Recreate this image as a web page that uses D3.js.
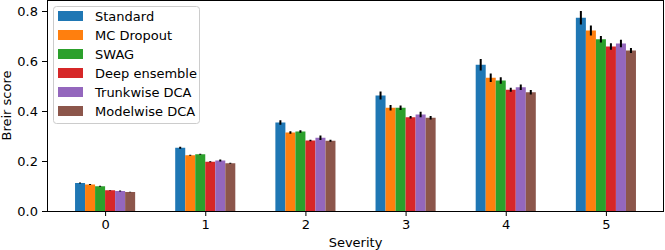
<!DOCTYPE html>
<html>
<head>
<meta charset="utf-8">
<script src="https://cdn.jsdelivr.net/npm/d3@7"></script>
<style>
  body { margin: 0; background: #fff; }
  svg text { font-family: "DejaVu Sans", sans-serif; fill: #000; }
</style>
</head>
<body>
<svg id="chart" width="665" height="250"></svg>
<script>
const severities = ['0', '1', '2', '3', '4', '5'];
const methods = ['Standard', 'MC Dropout', 'SWAG', 'Deep ensemble', 'Trunkwise DCA', 'Modelwise DCA'];
const colors = ['#1f77b4', '#ff7f0e', '#2ca02c', '#d62728', '#9467bd', '#8c564b'];

// mean Brier score per method, one entry per severity
const standard     = [0.112, 0.253, 0.354, 0.462, 0.585, 0.773];
const mcDropout    = [0.106, 0.223, 0.314, 0.413, 0.533, 0.722];
const swag         = [0.099, 0.227, 0.318, 0.413, 0.522, 0.687];
const deepEnsemble = [0.083, 0.197, 0.282, 0.375, 0.485, 0.658];
const trunkwiseDca = [0.080, 0.202, 0.293, 0.386, 0.495, 0.670];
const modelwiseDca = [0.076, 0.191, 0.281, 0.373, 0.475, 0.642];

// half-length of the error bars
const standardErr     = [0.002, 0.004, 0.009, 0.016, 0.023, 0.027];
const mcDropoutErr    = [0.002, 0.002, 0.005, 0.011, 0.017, 0.020];
const swagErr         = [0.002, 0.002, 0.005, 0.009, 0.013, 0.013];
const deepEnsembleErr = [0.001, 0.002, 0.003, 0.005, 0.008, 0.013];
const trunkwiseDcaErr = [0.002, 0.004, 0.009, 0.011, 0.011, 0.015];
const modelwiseDcaErr = [0.001, 0.002, 0.004, 0.007, 0.009, 0.010];

const yTicks = [0.0, 0.2, 0.4, 0.6, 0.8];

const series = [standard, mcDropout, swag, deepEnsemble, trunkwiseDca, modelwiseDca];
const errors = [standardErr, mcDropoutErr, swagErr, deepEnsembleErr, trunkwiseDcaErr, modelwiseDcaErr];

const margin = { top: 0, right: 1, bottom: 39, left: 47 };
const width = 665 - margin.left - margin.right;
const height = 250 - margin.top - margin.bottom;

const svg = d3.select('#chart');
const g = svg.append('g')
    .attr('transform', `translate(${margin.left},${margin.top})`);

// numeric x like matplotlib: groups at 0..5, bars of width 0.1
const barW = 0.1;
const xScale = d3.scaleLinear()
    .domain([-0.58, 5.58])
    .range([0, width]);

const yScale = d3.scaleLinear()
    .domain([0, 0.844])
    .range([height, 0]);

const bars = [];
series.forEach((vals, m) => {
    vals.forEach((v, i) => {
        const center = i + (m - 2.5) * barW;
        bars.push({ m, i, center, v, err: errors[m][i] });
    });
});

g.selectAll('.bar')
    .data(bars)
    .enter()
    .append('rect')
    .attr('class', 'bar')
    .attr('x', d => xScale(d.center - barW / 2))
    .attr('width', d => xScale(d.center + barW / 2) - xScale(d.center - barW / 2))
    .attr('y', d => yScale(d.v))
    .attr('height', d => yScale(0) - yScale(d.v))
    .attr('fill', d => colors[d.m]);

g.selectAll('.err')
    .data(bars)
    .enter()
    .append('line')
    .attr('class', 'err')
    .attr('x1', d => xScale(d.center))
    .attr('x2', d => xScale(d.center))
    .attr('y1', d => yScale(d.v - d.err))
    .attr('y2', d => yScale(d.v + d.err))
    .attr('stroke', '#000')
    .attr('stroke-width', 2);

// axes
const xAxis = d3.axisBottom(xScale)
    .tickValues(d3.range(severities.length))
    .tickFormat(i => severities[i])
    .tickSizeOuter(0)
    .tickSize(5)
    .tickPadding(4);

const yAxis = d3.axisLeft(yScale)
    .tickValues(yTicks)
    .tickFormat(d3.format('.1f'))
    .tickSizeOuter(0)
    .tickSize(5)
    .tickPadding(4);

const gx = g.append('g')
    .attr('transform', `translate(0,${height})`)
    .call(xAxis);
const gy = g.append('g').call(yAxis);

[gx, gy].forEach(a => {
    a.select('.domain').remove();
    a.selectAll('text').style('font-size', '13px').style('font-family', '"DejaVu Sans", sans-serif');
    a.selectAll('line').attr('stroke', '#000');
});

// spines
g.append('rect')
    .attr('x', 0.5).attr('y', 0.5)
    .attr('width', width - 1).attr('height', height)
    .attr('fill', 'none')
    .attr('stroke', '#000')
    .attr('stroke-width', 1);

g.append('text')
    .attr('text-anchor', 'middle')
    .attr('x', width / 2)
    .attr('y', height + 36)
    .style('font-size', '13px')
    .text('Severity');

g.append('text')
    .attr('text-anchor', 'middle')
    .attr('transform', 'rotate(-90)')
    .attr('x', -height / 2)
    .attr('y', -36)
    .style('font-size', '13px')
    .text('Breir score');

// legend
const legend = g.append('g').attr('transform', 'translate(6,6)');
legend.append('rect')
    .attr('x', 0.5).attr('y', 0.5)
    .attr('width', 146).attr('height', 117)
    .attr('rx', 3)
    .attr('fill', '#fff')
    .attr('fill-opacity', 0.8)
    .attr('stroke', '#ccc');

const items = legend.selectAll('.item')
    .data(methods)
    .enter()
    .append('g')
    .attr('class', 'item')
    .attr('transform', (d, i) => `translate(5,${10 + i * 19})`);

items.append('rect')
    .attr('x', 0).attr('y', -5)
    .attr('width', 25).attr('height', 10)
    .attr('fill', (d, i) => colors[i]);

items.append('text')
    .attr('x', 37)
    .attr('y', 0)
    .attr('dy', '0.35em')
    .style('font-size', '13px')
    .text(d => d);
</script>
</body>
</html>
